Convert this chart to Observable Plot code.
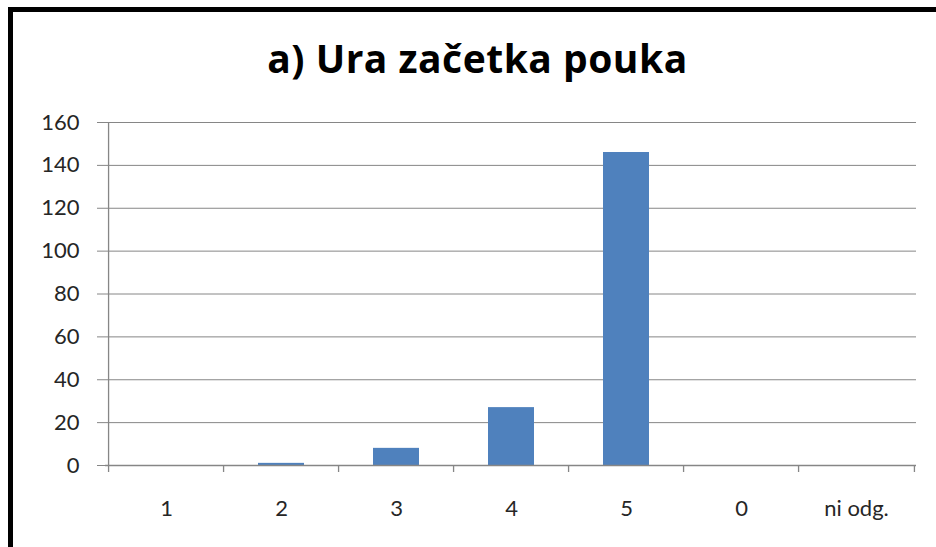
<!DOCTYPE html>
<html>
<head>
<meta charset="utf-8">
<script src="https://cdn.jsdelivr.net/npm/d3@7"></script>
<script src="https://cdn.jsdelivr.net/npm/@observablehq/plot@0.6"></script>
<style>
  html, body { margin: 0; padding: 0; background: #fff; }
  #wrap { position: relative; width: 936px; height: 547px; overflow: hidden; background: #fff; }
  #border { position: absolute; left: 8px; top: 7px; right: -20px; bottom: -20px; border-top: 5px solid #000; border-left: 5px solid #000; }
  #title { position: absolute; left: 19px; width: 917px; top: 38px; text-align: center; font-family: "Open Sans", Lato, sans-serif; font-weight: bold; font-size: 39px; line-height: 39px; letter-spacing: 0.5px; color: #000; white-space: nowrap; }
  #chart { position: absolute; left: 0; top: 110px; }
</style>
</head>
<body>
<div id="wrap">
  <div id="border"></div>
  <div id="title">a) Ura začetka pouka</div>
  <div id="chart"></div>
</div>
<script>
const categories = ["1", "2", "3", "4", "5", "0", "ni odg."];
const counts = [0, 1, 8, 27, 146, 0, 0];
const yTicks = [0, 20, 40, 60, 80, 100, 120, 140, 160];

const data = categories.map((c, i) => ({cat: c, n: counts[i]}));

const W = 936, H = 437, ML = 105, MR = 20, MT = 12, MB = 82;
const step = (W - ML - MR) / categories.length;
const grid = "#868686";
const txt = "#262626";
const font = "Lato, sans-serif";

const chart = Plot.plot({
  width: W, height: H,
  marginLeft: ML, marginRight: MR, marginTop: MT, marginBottom: MB,
  style: {fontFamily: font, background: "transparent", overflow: "visible"},
  x: {domain: categories, paddingInner: 0.6, paddingOuter: 0.3, label: null},
  y: {domain: [0, 160], label: null},
  marks: [
    Plot.gridY(yTicks, {stroke: grid, strokeOpacity: 1, strokeWidth: 1}),
    Plot.barY(data, {x: "cat", y: "n", fill: "#4F81BD"}),
    Plot.ruleY([0], {stroke: grid, strokeWidth: 1.3}),
    Plot.ruleX([categories[0]], {x: d => d, dx: -step / 2, y1: 0, y2: 160, stroke: grid, strokeWidth: 1.3}),
    Plot.ruleX(categories, {x: d => d, dx: -step / 2, y1: 0, y2: 0, insetBottom: -7, stroke: grid, strokeWidth: 1.3}),
    Plot.ruleX([categories[categories.length - 1]], {x: d => d, dx: step / 2, y1: 0, y2: 0, insetBottom: -7, stroke: grid, strokeWidth: 1.3}),
    Plot.axisY(yTicks, {tickSize: 8, tickPadding: 18, stroke: grid, strokeOpacity: 1, fill: txt, fontSize: 22, fontFamily: font, label: null, tickFormat: d => String(d)}),
    Plot.axisX({tickSize: 0, tickPadding: 35, fill: txt, fontSize: 22, fontFamily: font, label: null})
  ]
});
document.getElementById("chart").appendChild(chart);
</script>
</body>
</html>
